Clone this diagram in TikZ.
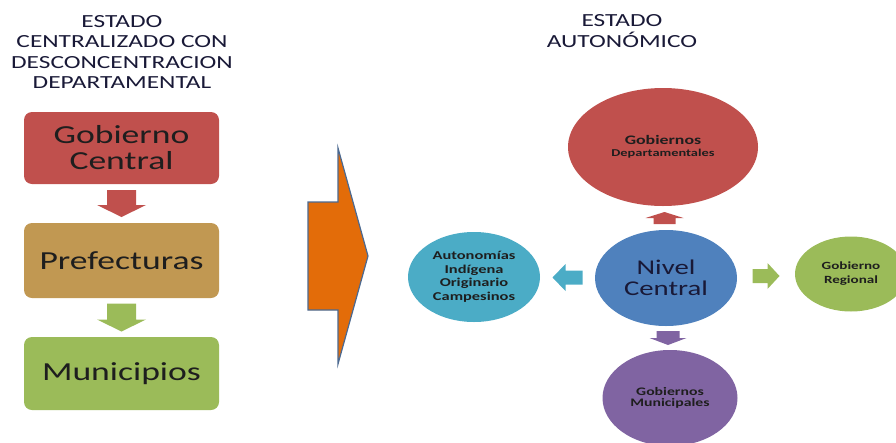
\documentclass[tikz,border=0pt]{standalone}
\usepackage{fontspec}
\setmainfont{Carlito}[FakeStretch=1.37]
\usetikzlibrary{shapes.geometric,calc}
\definecolor{cred}{RGB}{192,80,77}
\definecolor{ctan}{RGB}{193,152,82}
\definecolor{cgreen}{RGB}{155,187,89}
\definecolor{cblue}{RGB}{79,129,189}
\definecolor{ccyan}{RGB}{75,172,198}
\definecolor{cpurple}{RGB}{128,100,162}
\definecolor{corange}{RGB}{227,108,9}
\definecolor{cedge}{RGB}{75,105,145}
\definecolor{ctext}{RGB}{30,30,30}
\definecolor{ctitle}{RGB}{25,25,55}
\tikzset{
  box/.style={rounded corners=8pt, minimum width=195pt, inner sep=0pt, align=center,
    text=ctext, font=\fontsize{26}{26}\selectfont},
  circ/.style={ellipse, inner sep=0pt, align=center, text=ctext},
  title/.style={align=center, text=ctitle, font=\fontsize{18.5}{20.5}\selectfont},
  small/.style={font=\fontsize{12}{13.5}\selectfont\bfseries},
  pics/barrow/.style n args={4}{code={%
    \fill (-#1/2,-#3) -- (#1/2-#2,-#3) -- (#1/2-#2,-#4) -- (#1/2,0)
      -- (#1/2-#2,#4) -- (#1/2-#2,#3) -- (-#1/2,#3) -- cycle;}}
}
\begin{document}
\begin{tikzpicture}[x=1pt,y=-1pt]
\clip (0,0) rectangle (896,442);
\useasboundingbox (0,0) rectangle (896,442);
% titles
\node[title] (t1) at (122,52) {ESTADO\\CENTRALIZADO CON\\DESCONCENTRACION\\DEPARTAMENTAL};
\node[title] (t2) at (622,31) {ESTADO\\AUTONÓMICO};
% left boxes
\node[box, fill=cred, minimum height=72pt] (gc) at (121.5,148) {Gobierno\\Central};
\node[box, fill=ctan, minimum height=75pt] (pf) at (121.5,260.5) {Prefecturas};
\node[box, fill=cgreen, minimum height=73pt] (mu) at (121.5,373.5) {Municipios};
\pic[fill=cred, rotate=-90] at ($(gc.south)!0.5!(pf.north)$) {barrow={27}{12}{14.5}{24.5}};
\pic[fill=cgreen, rotate=-90] at ($(pf.south)!0.5!(mu.north)$) {barrow={28}{12}{14.5}{24.5}};
% big arrow
\coordinate (ba) at (338,256);
\filldraw[fill=corange, draw=cedge, line width=1.2pt, line join=miter]
  ($(ba)+(-30,-54)$) -- ($(ba)+(0,-54)$) -- ($(ba)+(0,-108)$) -- ($(ba)+(30,0)$)
  -- ($(ba)+(0,108)$) -- ($(ba)+(0,54)$) -- ($(ba)+(-30,54)$) -- cycle;
% right circles
\node[circ, fill=cred, minimum width=190pt, minimum height=118pt] (gd) at (663,147)
  {{\fontsize{13}{14}\selectfont\bfseries Gobiernos}\\{\fontsize{10.5}{12}\selectfont\bfseries Departamentales}};
\node[circ, fill=cblue, minimum width=142pt, minimum height=96pt, text=ctitle,
  font=\fontsize{21}{21}\selectfont] (nc) at (666,278) {Nivel\\Central};
\node[circ, fill=ccyan, minimum width=132pt, minimum height=90pt, small] (cy) at (474,277)
  {Autonomías\\Indígena\\Originario\\Campesinos};
\node[circ, fill=cgreen, minimum width=112pt, minimum height=75pt, font=\fontsize{11}{14}\selectfont\bfseries] (gr) at (851,274)
  {Gobierno\\Regional};
\node[circ, fill=cpurple, minimum width=135pt, minimum height=96pt, font=\fontsize{11.5}{11.5}\selectfont\bfseries] (mp) at (670,398)
  {Gobiernos\\Municipales};
% small arrows
\pic[fill=cred, rotate=90] at ($(nc.north)!0.5!(gd.south)$) {barrow={12}{6}{11}{19}};
\pic[fill=cpurple, rotate=-90] at ($(nc.south)!0.5!(mp.north)$) {barrow={14}{7}{11.5}{18.5}};
\pic[fill=cgreen] at ($(nc.east)!0.5!(gr.west)$) {barrow={27}{12}{7}{13}};
\pic[fill=ccyan, rotate=180] at ($(nc.west)!0.5!(cy.east)$) {barrow={30}{13}{7}{13.5}};
\end{tikzpicture}
\end{document}
